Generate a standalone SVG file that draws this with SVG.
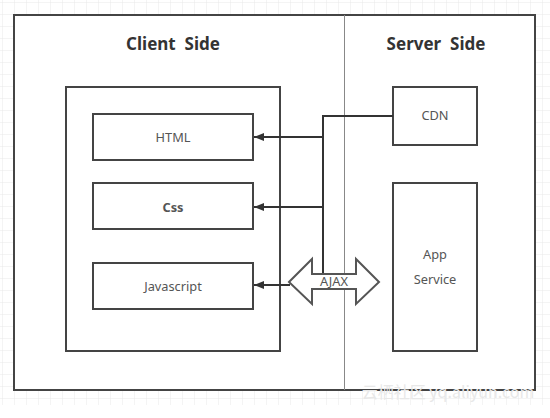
<svg xmlns="http://www.w3.org/2000/svg" width="550" height="418" viewBox="0 0 550 418">
<style>
.box{fill:#fff;stroke:#444;stroke-width:2}
.title{font-family:"Noto Sans","Open Sans",sans-serif;font-weight:bold;font-size:17px;fill:#333;text-anchor:middle;white-space:pre}
.lbl{font-family:"Noto Sans","Open Sans",sans-serif;font-size:12.8px;fill:#555;text-anchor:middle}
.conn{fill:none;stroke:#333;stroke-width:2}
</style>
<defs>
<pattern id="grid" width="12" height="12" patternUnits="userSpaceOnUse" x="3" y="3">
<path d="M12 0V12M0 12H12" fill="none" stroke="#e8e8e8" stroke-width="1"/>
</pattern>
<marker id="ah" viewBox="0 0 10 8" refX="10" refY="4" markerWidth="10" markerHeight="8" markerUnits="userSpaceOnUse" orient="auto">
<path d="M0 0L10 4L0 8Z" fill="#333"/>
</marker>
</defs>
<rect width="550" height="418" fill="#fff"/>
<rect width="550" height="405" fill="url(#grid)"/>
<g id="outer">
<rect class="box" x="14" y="15" width="521" height="375"/>
</g>
<g id="divider">
<line x1="344.5" y1="15" x2="344.5" y2="390" stroke="#888" stroke-width="1"/>
</g>
<g id="client-title"><text class="title" x="173" y="50">Client  Side</text></g>
<g id="server-title"><text class="title" x="436" y="50">Server  Side</text></g>
<g id="client-box"><rect class="box" x="66" y="87" width="214" height="264"/></g>
<g id="html"><rect class="box" x="93" y="114" width="160" height="46"/><text class="lbl" x="173" y="142">HTML</text></g>
<g id="css"><rect class="box" x="93" y="183" width="160" height="46"/><text class="lbl" x="173" y="212" font-weight="bold" fill="#333">Css</text></g>
<g id="javascript"><rect class="box" x="93" y="263" width="160" height="46"/><text class="lbl" x="173" y="291">Javascript</text></g>
<g id="cdn"><rect class="box" x="393" y="87" width="84" height="58"/><text class="lbl" x="435" y="120">CDN</text></g>
<g id="app-service"><rect class="box" x="393" y="183" width="84" height="168"/><text class="lbl" x="435" y="259">App</text><text class="lbl" x="435" y="284">Service</text></g>
<g id="connectors">
<path class="conn" d="M393 116H323V274"/>
<path class="conn" d="M323 137H254" marker-end="url(#ah)"/>
<path class="conn" d="M323 207H254" marker-end="url(#ah)"/>
<path class="conn" d="M290 285H254" marker-end="url(#ah)"/>
</g>
<g id="ajax">
<path d="M289 282L312 259V274H356V259L379 282L356 304V289H312V304Z" fill="#fff" stroke="#555" stroke-width="2" stroke-linejoin="miter"/>
<text class="lbl" x="334" y="286" font-size="12.8">AJAX</text>
</g>
<text x="448" y="398" font-family="'Noto Sans CJK SC','Noto Sans',sans-serif" font-size="16" fill="#e8e8e8" text-anchor="middle">云栖社区 yq.aliyun.com</text>
</svg>
